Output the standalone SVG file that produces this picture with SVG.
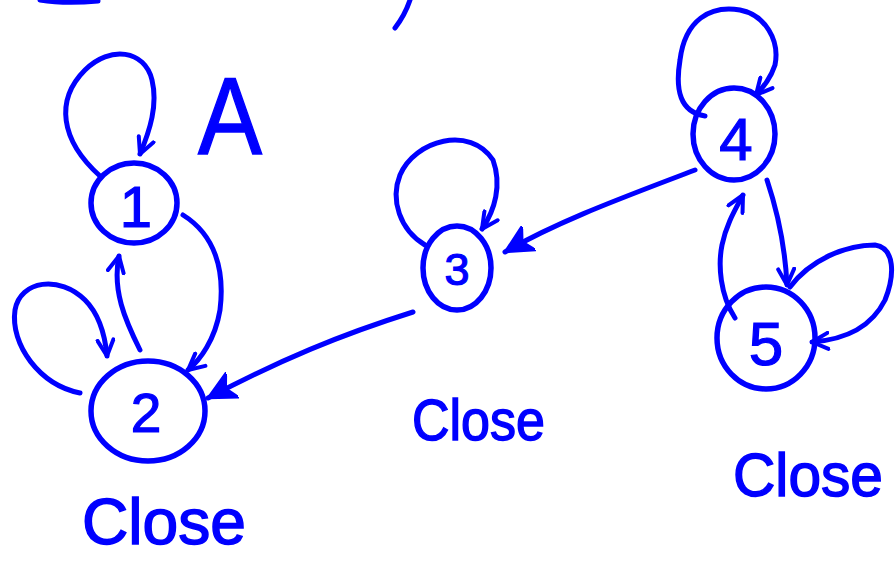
<svg xmlns="http://www.w3.org/2000/svg" width="895" height="561" viewBox="0 0 895 561">
<style>
.ink{fill:none;stroke:#0000ff;stroke-width:5;stroke-linecap:round;stroke-linejoin:round}
.node{fill:none;stroke:#0000ff;stroke-width:5.5}
.lbl{fill:#0000ff;font-family:"Liberation Sans",Arial,sans-serif;stroke:#0000ff;stroke-width:1.5}
.num{fill:#0000ff;font-family:"Liberation Sans",Arial,sans-serif;text-anchor:middle;stroke:#0000ff;stroke-width:1.2}
</style>
<defs>
<marker id="open" viewBox="0 0 20 20" refX="18" refY="10" markerWidth="20" markerHeight="20" markerUnits="userSpaceOnUse" orient="auto">
<path d="M2,2 L18,10 L2,18" fill="none" stroke="#0000ff" stroke-width="4" stroke-linecap="round" stroke-linejoin="round"/>
</marker>
<marker id="solid" viewBox="0 0 24 24" refX="22" refY="12" markerWidth="30" markerHeight="30" markerUnits="userSpaceOnUse" orient="auto">
<path d="M0,1 L22,12 L0,23 L6,12 Z" fill="#0000ff" stroke="#0000ff" stroke-width="2" stroke-linejoin="round"/>
</marker>
</defs>
<rect width="895" height="561" fill="#ffffff"/>
<g id="fragments">
<path class="ink" d="M40,0 Q65,4 98,1"/>
<path class="ink" d="M410,0 Q405,15 395,28"/>
</g>
<g id="connectors">
<path class="ink" marker-end="url(#open)" d="M100,176 C60,140 55,100 85,70 C110,45 145,50 152,80 C158,105 150,130 140,154"/>
<path class="ink" marker-end="url(#open)" d="M80,393 C40,385 10,345 15,310 C20,280 60,275 85,300 C100,315 105,335 107,356"/>
<path class="ink" marker-end="url(#open)" d="M140,350 C125,320 112,290 119,256"/>
<path class="ink" marker-end="url(#open)" d="M183,215 C215,235 225,270 220,310 C215,340 200,360 188,370"/>
<path class="ink" marker-end="url(#solid)" d="M413,312 C340,335 280,360 208,398"/>
<path class="ink" marker-end="url(#open)" d="M425,245 C400,230 390,200 400,175 C415,140 470,125 493,160 C502,185 495,210 482,229"/>
<path class="ink" marker-end="url(#solid)" d="M695,170 C630,195 560,220 505,252"/>
<path class="ink" marker-end="url(#open)" d="M705,116 C680,112 675,90 680,60 C685,20 710,5 740,10 C765,15 780,40 775,65 C770,80 762,88 756,95"/>
<path class="ink" marker-end="url(#open)" d="M767,180 C777,210 785,245 787,285"/>
<path class="ink" marker-end="url(#open)" d="M735,318 C720,295 718,265 722,245 C726,225 735,210 743,195"/>
<path class="ink" marker-end="url(#open)" d="M790,287 C810,260 845,245 875,245 C895,248 895,275 885,300 C870,330 840,340 812,342"/>
</g>
<g id="node1">
<ellipse class="node" cx="134" cy="203" rx="43" ry="40"/>
<text class="num" x="136" y="227" font-size="58">1</text>
</g>
<g id="labelA">
<text class="lbl" x="198" y="154" font-size="110" textLength="64" lengthAdjust="spacingAndGlyphs">A</text>
</g>
<g id="node2">
<ellipse class="node" cx="148" cy="411" rx="57" ry="50"/>
<text class="num" x="146" y="432" font-size="55">2</text>
<text class="lbl" x="82" y="544" font-size="64" textLength="164" lengthAdjust="spacingAndGlyphs">Close</text>
</g>
<g id="node3">
<ellipse class="node" cx="457" cy="268" rx="34" ry="42"/>
<text class="num" x="457" y="285" font-size="45">3</text>
<text class="lbl" x="412" y="440" font-size="58" textLength="133" lengthAdjust="spacingAndGlyphs">Close</text>
</g>
<g id="node4">
<ellipse class="node" cx="734" cy="134" rx="41" ry="46"/>
<text class="num" x="736" y="160" font-size="60">4</text>
</g>
<g id="node5">
<ellipse class="node" cx="766" cy="338" rx="49" ry="51"/>
<text class="num" x="766" y="365" font-size="62">5</text>
<text class="lbl" x="733" y="496" font-size="62" textLength="150" lengthAdjust="spacingAndGlyphs">Close</text>
</g>
</svg>
